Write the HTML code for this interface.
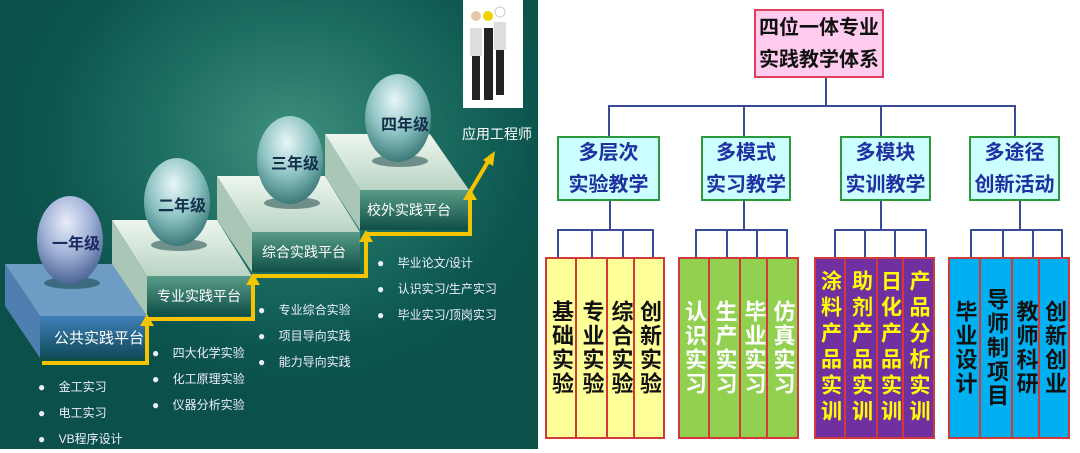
<!DOCTYPE html>
<html><head><meta charset="utf-8"><style>
body{margin:0;width:1080px;height:453px;background:#fff;overflow:hidden;font-family:"Liberation Sans","Noto Sans CJK SC",sans-serif;position:relative}
.L{position:absolute;left:0;top:0;width:538px;height:449px;background:radial-gradient(ellipse 300px 260px at 290px 140px,#3f8f7c 0%,#1d6e62 45%,#0c564f 80%,#0b5049 100%)}
.t{position:absolute;white-space:nowrap}
.bx{position:absolute;box-sizing:border-box;display:flex;align-items:center;justify-content:center;text-align:center;font-weight:bold}
.col{position:absolute;box-sizing:border-box;border:2px solid #d23a3a;writing-mode:vertical-rl;text-orientation:upright;display:flex;align-items:center;justify-content:center;font-weight:bold;font-size:22px;line-height:1;letter-spacing:2px}
.p{font-size:21px;letter-spacing:5px}
.ln{position:absolute;background:#3a4a9a}
</style></head><body>
<div class="L"></div>
<svg width="540" height="453" style="position:absolute;left:0;top:0">
<defs>
<linearGradient id="fb" x1="0" y1="0" x2="0" y2="1"><stop offset="0" stop-color="#3f7fb8"/><stop offset="1" stop-color="#0f4b5a"/></linearGradient>
<linearGradient id="ff" x1="0" y1="0" x2="0" y2="1"><stop offset="0" stop-color="#5a9c88"/><stop offset="1" stop-color="#0e4f47"/></linearGradient>
<linearGradient id="tp" x1="0" y1="0" x2="0" y2="1"><stop offset="0" stop-color="#eef6ee"/><stop offset="1" stop-color="#b9d4c4"/></linearGradient>
<radialGradient id="sp" cx="0.45" cy="0.3" r="0.75"><stop offset="0" stop-color="#eaf6f6"/><stop offset="0.5" stop-color="#8fc4c4"/><stop offset="1" stop-color="#2f6e6e"/></radialGradient>
<radialGradient id="sp1" cx="0.45" cy="0.3" r="0.75"><stop offset="0" stop-color="#e8ecf8"/><stop offset="0.5" stop-color="#9fb0d6"/><stop offset="1" stop-color="#3f5a8a"/></radialGradient>
</defs>
<polygon points="5,264 112,264 147,316 40,316" fill="#6f9cc4"/>
<polygon points="5,264 40,316 40,358 5,306" fill="#4f7fb0"/>
<rect x="40" y="316" width="107" height="42" fill="url(#fb)"/>
<polygon points="112,220 217,220 252,276 147,276" fill="url(#tp)"/>
<polygon points="112,220 147,276 147,316 112,264" fill="#a9c6b6"/>
<rect x="147" y="276" width="105" height="40" fill="url(#ff)"/>
<polygon points="217,176 325,176 360,232 252,232" fill="url(#tp)"/>
<polygon points="217,176 252,232 252,272 217,220" fill="#a9c6b6"/>
<rect x="252" y="232" width="108" height="40" fill="url(#ff)"/>
<polygon points="325,134 430,134 469,190 360,190" fill="url(#tp)"/>
<polygon points="325,134 360,190 360,230 325,176" fill="#a9c6b6"/>
<rect x="360" y="190" width="109" height="40" fill="url(#ff)"/>
<ellipse cx="72" cy="283" rx="28" ry="6" fill="#0a3a3a" opacity="0.5"/>
<ellipse cx="70" cy="240" rx="33" ry="44" fill="url(#sp1)"/>
<ellipse cx="179" cy="245" rx="28" ry="6" fill="#0a3a3a" opacity="0.5"/>
<ellipse cx="177" cy="202" rx="33" ry="44" fill="url(#sp)"/>
<ellipse cx="292" cy="203" rx="28" ry="6" fill="#0a3a3a" opacity="0.5"/>
<ellipse cx="290" cy="160" rx="33" ry="44" fill="url(#sp)"/>
<ellipse cx="400" cy="161" rx="28" ry="6" fill="#0a3a3a" opacity="0.5"/>
<ellipse cx="398" cy="118" rx="33" ry="44" fill="url(#sp)"/>
<polyline points="42,363 147,363 147,324" fill="none" stroke="#f5c400" stroke-width="4"/>
<polygon points="140,326 147,314 154,326" fill="#f5c400"/>
<polyline points="147,319 253,319 253,283" fill="none" stroke="#f5c400" stroke-width="4"/>
<polygon points="246,285 253,273 260,285" fill="#f5c400"/>
<polyline points="253,276 366,276 366,240" fill="none" stroke="#f5c400" stroke-width="4"/>
<polygon points="359,242 366,230 373,242" fill="#f5c400"/>
<polyline points="366,234 470,234 470,198" fill="none" stroke="#f5c400" stroke-width="4"/>
<polygon points="463,200 470,188 477,200" fill="#f5c400"/>
<line x1="470" y1="192" x2="489" y2="160" stroke="#f5c400" stroke-width="4"/>
<polygon points="483,160 495,151 493,166" fill="#f5c400"/>
<rect x="463" y="0" width="60" height="108" fill="#fff"/>
<g fill="#222"><rect x="472" y="30" width="8" height="70"/><rect x="484" y="28" width="9" height="72"/><rect x="496" y="25" width="8" height="70"/></g>
<g fill="#ddd"><rect x="470" y="28" width="12" height="28"/><rect x="494" y="22" width="12" height="28"/></g>
<circle cx="476" cy="16" r="5" fill="#e8c8a8"/><circle cx="488" cy="16" r="5" fill="#f0d000"/><circle cx="500" cy="12" r="5" fill="#fff" stroke="#ccc"/>
</svg>
<div class="t" style="left:52px;top:230px;font-size:16px;font-weight:bold;color:#1a2a60">一年级</div>
<div class="t" style="left:158px;top:192px;font-size:16px;font-weight:bold;color:#12304a">二年级</div>
<div class="t" style="left:271px;top:150px;font-size:16px;font-weight:bold;color:#12304a">三年级</div>
<div class="t" style="left:381px;top:111px;font-size:16px;font-weight:bold;color:#12304a">四年级</div>
<div class="t" style="left:54px;top:327px;font-size:15px;color:#fff">公共实践平台</div>
<div class="t" style="left:157px;top:286px;font-size:14px;color:#fff">专业实践平台</div>
<div class="t" style="left:262px;top:242px;font-size:14px;color:#fff">综合实践平台</div>
<div class="t" style="left:367px;top:200px;font-size:14px;color:#fff">校外实践平台</div>
<div class="t" style="left:462px;top:124px;font-size:14px;color:#fff">应用工程师</div>
<div class="t" style="left:38px;top:374px;font-size:12px;color:#eef;line-height:26px">●&nbsp;&nbsp;&nbsp;&nbsp;金工实习<br>●&nbsp;&nbsp;&nbsp;&nbsp;电工实习<br>●&nbsp;&nbsp;&nbsp;&nbsp;VB程序设计</div>
<div class="t" style="left:152px;top:340px;font-size:12px;color:#eef;line-height:26px">●&nbsp;&nbsp;&nbsp;&nbsp;四大化学实验<br>●&nbsp;&nbsp;&nbsp;&nbsp;化工原理实验<br>●&nbsp;&nbsp;&nbsp;&nbsp;仪器分析实验</div>
<div class="t" style="left:258px;top:297px;font-size:12px;color:#eef;line-height:26px">●&nbsp;&nbsp;&nbsp;&nbsp;专业综合实验<br>●&nbsp;&nbsp;&nbsp;&nbsp;项目导向实践<br>●&nbsp;&nbsp;&nbsp;&nbsp;能力导向实践</div>
<div class="t" style="left:377px;top:250px;font-size:12px;color:#eef;line-height:26px">●&nbsp;&nbsp;&nbsp;&nbsp;毕业论文/设计<br>●&nbsp;&nbsp;&nbsp;&nbsp;认识实习/生产实习<br>●&nbsp;&nbsp;&nbsp;&nbsp;毕业实习/顶岗实习</div>

<div class="bx" style="left:754px;top:9px;width:130px;height:69px;background:#ffccf0;border:2px solid #e04060;font-size:20px;line-height:32px;color:#111">四位一体专业<br>实践教学体系</div>
<div class="ln" style="left:825px;top:78px;width:2px;height:28px"></div>
<div class="ln" style="left:608px;top:105px;width:408px;height:2px"></div>
<div class="ln" style="left:608px;top:105px;width:2px;height:31px"></div>
<div class="ln" style="left:743px;top:105px;width:2px;height:31px"></div>
<div class="ln" style="left:880px;top:105px;width:2px;height:31px"></div>
<div class="ln" style="left:1014px;top:105px;width:2px;height:31px"></div>
<div class="bx" style="left:557px;top:136px;width:103px;height:65px;background:#ccffff;border:2px solid #2a9a3a;font-size:20px;line-height:32px;color:#2030a0">多层次<br>实验教学</div>
<div class="bx" style="left:701px;top:136px;width:90px;height:65px;background:#ccffff;border:2px solid #2a9a3a;font-size:20px;line-height:32px;color:#2030a0">多模式<br>实习教学</div>
<div class="bx" style="left:840px;top:136px;width:91px;height:65px;background:#ccffff;border:2px solid #2a9a3a;font-size:20px;line-height:32px;color:#2030a0">多模块<br>实训教学</div>
<div class="bx" style="left:969px;top:136px;width:91px;height:65px;background:#ccffff;border:2px solid #2a9a3a;font-size:20px;line-height:32px;color:#2030a0">多途径<br>创新活动</div>

<div class="ln" style="left:609px;top:201px;width:2px;height:29px"></div>
<div class="ln" style="left:557px;top:229px;width:97px;height:2px"></div>
<div class="ln" style="left:557px;top:229px;width:2px;height:29px"></div><div class="ln" style="left:591px;top:229px;width:2px;height:29px"></div><div class="ln" style="left:622px;top:229px;width:2px;height:29px"></div><div class="ln" style="left:652px;top:229px;width:2px;height:29px"></div>
<div class="ln" style="left:743px;top:201px;width:2px;height:29px"></div>
<div class="ln" style="left:695px;top:229px;width:93px;height:2px"></div>
<div class="ln" style="left:695px;top:229px;width:2px;height:29px"></div><div class="ln" style="left:726px;top:229px;width:2px;height:29px"></div><div class="ln" style="left:756px;top:229px;width:2px;height:29px"></div><div class="ln" style="left:786px;top:229px;width:2px;height:29px"></div>
<div class="ln" style="left:880px;top:201px;width:2px;height:29px"></div>
<div class="ln" style="left:834px;top:229px;width:93px;height:2px"></div>
<div class="ln" style="left:834px;top:229px;width:2px;height:29px"></div><div class="ln" style="left:864px;top:229px;width:2px;height:29px"></div><div class="ln" style="left:894px;top:229px;width:2px;height:29px"></div><div class="ln" style="left:925px;top:229px;width:2px;height:29px"></div>
<div class="ln" style="left:1019px;top:201px;width:2px;height:29px"></div>
<div class="ln" style="left:970px;top:229px;width:92px;height:2px"></div>
<div class="ln" style="left:970px;top:229px;width:2px;height:29px"></div><div class="ln" style="left:1002px;top:229px;width:2px;height:29px"></div><div class="ln" style="left:1032px;top:229px;width:2px;height:29px"></div><div class="ln" style="left:1061px;top:229px;width:2px;height:29px"></div>

<div class="col" style="left:545px;top:257px;width:32px;height:182px;background:#ffff99;color:#111">基础实验</div>
<div class="col" style="left:575px;top:257px;width:33px;height:182px;background:#ffff99;color:#111">专业实验</div>
<div class="col" style="left:606px;top:257px;width:29px;height:182px;background:#ffff99;color:#111">综合实验</div>
<div class="col" style="left:633px;top:257px;width:32px;height:182px;background:#ffff99;color:#111">创新实验</div>
<div class="col" style="left:678px;top:257px;width:32px;height:182px;background:#92d050;color:#fff">认识实习</div>
<div class="col" style="left:708px;top:257px;width:33px;height:182px;background:#92d050;color:#fff">生产实习</div>
<div class="col" style="left:739px;top:257px;width:29px;height:182px;background:#92d050;color:#fff">毕业实习</div>
<div class="col" style="left:766px;top:257px;width:33px;height:182px;background:#92d050;color:#fff">仿真实习</div>
<div class="col p" style="left:814px;top:257px;width:32px;height:182px;background:#7030a0;color:#ffff00">涂料产品实训</div>
<div class="col p" style="left:844px;top:257px;width:34px;height:182px;background:#7030a0;color:#ffff00">助剂产品实训</div>
<div class="col p" style="left:876px;top:257px;width:28px;height:182px;background:#7030a0;color:#ffff00">日化产品实训</div>
<div class="col p" style="left:902px;top:257px;width:33px;height:182px;background:#7030a0;color:#ffff00">产品分析实训</div>
<div class="col" style="left:948px;top:257px;width:33px;height:182px;background:#00b0f0;color:#111">毕业设计</div>
<div class="col" style="left:979px;top:257px;width:34px;height:182px;background:#00b0f0;color:#111">导师制项目</div>
<div class="col" style="left:1011px;top:257px;width:29px;height:182px;background:#00b0f0;color:#111">教师科研</div>
<div class="col" style="left:1038px;top:257px;width:32px;height:182px;background:#00b0f0;color:#111">创新创业</div>
</body></html>
